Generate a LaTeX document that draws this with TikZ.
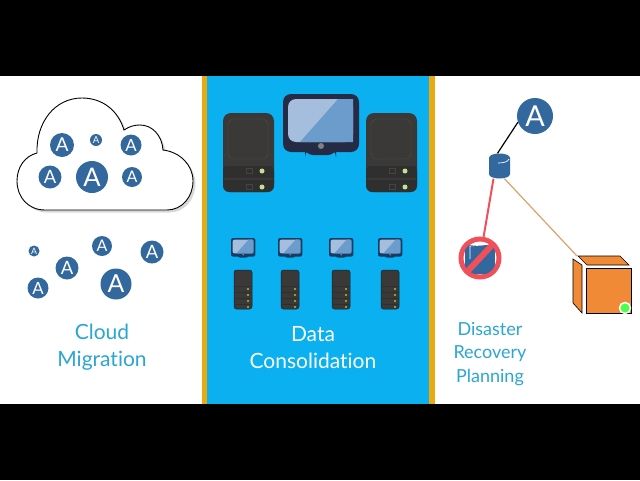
\documentclass[tikz,border=0pt]{standalone}
\usepackage{fontspec}
\setsansfont{Lato}[Ligatures=CommonOff]
\usetikzlibrary{shapes,positioning,shadows}
\definecolor{ablue}{HTML}{33689F}
\definecolor{panel}{HTML}{0AB0F0}
\definecolor{stripe}{HTML}{EBA90F}
\definecolor{label}{HTML}{2BA6D3}
\definecolor{rack}{HTML}{3A3937}
\definecolor{rackdark}{HTML}{302F2F}
\definecolor{rackline}{HTML}{46443F}
\definecolor{led}{HTML}{C4E08F}
\definecolor{screenlight}{HTML}{A5BEDD}
\definecolor{screendark}{HTML}{6C9CCB}
\definecolor{bigframe}{HTML}{262B45}
\definecolor{smallframe}{HTML}{133C66}
\definecolor{boxorange}{HTML}{F08A36}
\definecolor{nored}{HTML}{F0505A}
\definecolor{linkorange}{HTML}{D9A36B}
\tikzset{
  badge/.style={circle,fill=ablue,text=white,inner sep=0pt,minimum size=2*#1,
    /utils/exec={\pgfmathsetmacro\fs{1.6*#1}},font=\sffamily\fontsize{\fs}{\fs}\selectfont},
  caption/.style={text=label,font=\sffamily\fontsize{21}{27}\selectfont,align=center},
  boxface/.style={fill=boxorange,draw=black,line width=.6},
  pics/bigserver/.style={code={
    \fill[rack,rounded corners=8] (0,0) rectangle (51,79);
    \fill[rackdark,rounded corners=6] (0,52) rectangle (51,79);
    \draw[rackline,line width=.8,rounded corners=6] (5,6) rectangle (45,46);
    \draw[rack,line width=2] (1,52) -- (50,52);
    \draw[rack,line width=2] (1,66) -- (50,66);
    \draw[rackline,line width=.6] (23,55) rectangle (29,60);
    \draw[rackline,line width=.6] (23,71) rectangle (29,76);
    \fill[led] (39,58) circle (2.5) (39,74) circle (2.5);
  }},
  pics/tower/.style={code={
    \fill[rack,draw=smallframe!60!black,line width=.5,rounded corners=2.5] (0,0) rectangle (18,39);
    \foreach \y in {16,22,28,34} {
      \draw[rackdark,line width=.8] (0,\y) -- (18,\y);
      \fill[yellow!80!white] (14,\y+3) circle (.9);
    }
  }},
  pics/monitor/.style={code={
    \fill[#1] (22,55) rectangle (53,61);
    \fill[#1] (0,0) rectangle (76,58);
    \fill[screenlight] (5,5) rectangle (70,48);
    \fill[screendark,sharp corners] (55,5) -- (70,5) -- (70,48) -- (17,48) -- cycle;
    \fill[gray] (38,52) circle (3);
  }},
}
\begin{document}
\begin{tikzpicture}[x=1pt,y=-1pt]
  \useasboundingbox (0,0) rectangle (640,480);
  \fill[black] (0,0) rectangle (640,480);
  \fill[white] (0,76) rectangle (640,404);
  % middle panel
  \fill[stripe] (202,76) rectangle (435,404);
  \fill[panel] (207,76) rectangle (429,404);
  % cloud
  \draw[fill=white,line width=.9,drop shadow={shadow xshift=2.5,shadow yshift=2.5,opacity=.3}]
    (45,210) .. controls (28,210) and (17,197) .. (17,181)
    .. controls (17,167) and (25,156) .. (37,153)
    .. controls (36,122) and (55,98) .. (82,98)
    .. controls (102,98) and (118,110) .. (124,130)
    .. controls (130,126) and (135,125) .. (140,125)
    .. controls (152,125) and (162,135) .. (163,150)
    .. controls (180,152) and (193,165) .. (193,181)
    .. controls (193,197) and (182,210) .. (167,210) -- cycle;
  \foreach \name/\x/\y/\r in {a1/62/145/12,a2/96/140/6,a3/131/145/10.5,a4/50/177/11.5,a5/92/177/16,a6/132/177/10,
    b1/34/251/5.5,b2/102/246/10,b3/152/252/11.5,b4/67/268/11.5,b5/38/288/10.5,b6/116/284/15.5}
    \node[badge=\r] (\name) at (\x,\y) {A};
  \node[caption] (cloudlabel) at (102,347.5) {Cloud\\Migration};
  % data consolidation
  \pic at (223,113) {bigserver};
  \pic at (366,113) {bigserver};
  \pic[rounded corners=8] at (283,94) {monitor=bigframe};
  \foreach \x in {231,278,329,378} {
    \pic[scale=.32,rounded corners=2] at (\x,238) {monitor=smallframe};
  }
  \foreach \x in {234,281,332,381} {
    \pic at (\x,270) {tower};
  }
  \node[caption,text=white] (datalabel) at (313,347.5) {Data\\Consolidation};
  % disaster recovery
  \node[badge=18] (app) at (535,116) {A};
  \node[rectangle,minimum width=21,minimum height=25,inner sep=0pt] (disk) at (499.5,166) {};
  \fill[ablue] (489,158) -- (489,174) .. controls (489,180) and (510,180) .. (510,174)
    -- (510,158) .. controls (510,152) and (489,152) .. (489,158) -- cycle;
  \draw[white,line width=.7] (498,163) .. controls (503,163) and (508,162) .. (509,159);
  \node[circle,draw=nored,line width=5,minimum size=38,inner sep=0pt] (failed) at (480,258) {};
  \begin{scope}
    \clip (480,258) circle (17);
    \fill[ablue] (465,245) rectangle (495,274);
    \draw[white,line width=.6] (470,259) -- (470,246) -- (484,245);
  \end{scope}
  \draw[nored,line width=6] (494,243) -- (466,273);
  \draw[boxface] (573,259) -- (582,265) -- (582,313) -- (573,303) -- cycle;
  \draw[boxface] (578,256) -- (620,256) -- (629,265) -- (587,265) -- cycle;
  \node[rectangle,boxface,minimum size=45,inner sep=0pt] (box) at (608.5,290.5) {};
  \node[circle,fill=green!70!white,draw=white,line width=1.5,minimum size=11,inner sep=0pt] (status) at (625,308) {};
  \coordinate (boxcorner) at (577,256);
  \draw[line width=1.2] (app.200) -- ([xshift=-2pt]disk.north);
  \draw[nored,line width=2] ([xshift=-6pt]disk.south) -- (failed);
  \draw[linkorange,line width=1.2] ([xshift=5pt]disk.south) -- (boxcorner);
  \node[caption,font=\sffamily\fontsize{18}{23.5}\selectfont] (drlabel) at (490,354) {Disaster\\Recovery\\Planning};
\end{tikzpicture}
\end{document}
